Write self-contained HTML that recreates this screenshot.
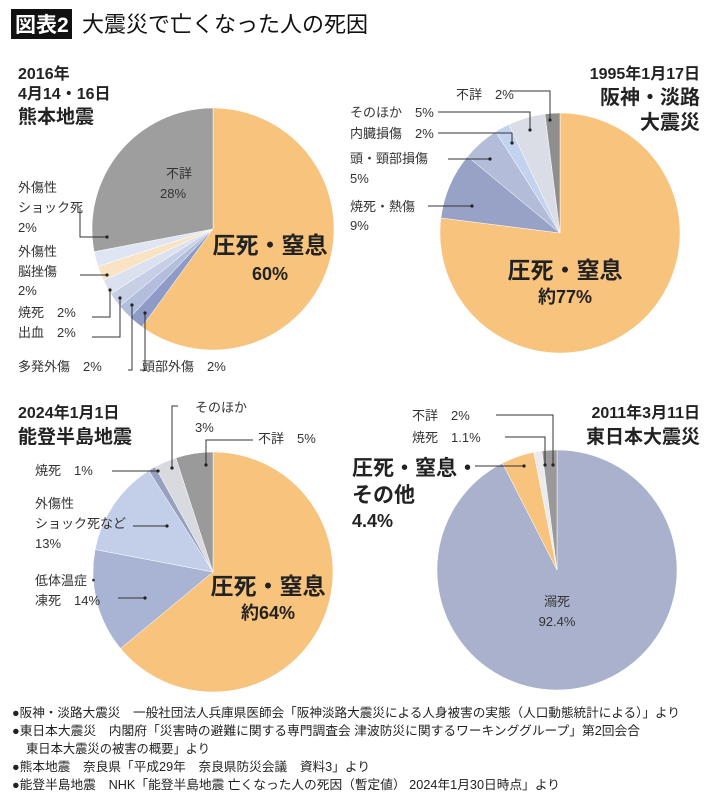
<!DOCTYPE html>
<html><head><meta charset="utf-8">
<style>
body{margin:0;background:#fff;}
svg{display:block;font-family:"Liberation Sans","Noto Sans CJK JP",sans-serif;}
.l{font-size:13px;fill:#333;}
.b{font-weight:bold;fill:#222;}
</style></head>
<body>
<svg id="chart" width="710" height="800" viewBox="0 0 710 800">
<rect x="11" y="9" width="61" height="30" fill="#111"/>
<text x="15" y="32" font-size="21" font-weight="bold" fill="#fff">図表2</text>
<text x="82" y="32" font-size="22" fill="#111">大震災で亡くなった人の死因</text>
<g id="pies"></g>
<g fill="none" stroke="#333" stroke-width="1">
<polyline points="80,208 80,237 107,237"/><polyline points="80,275 107,275"/>
<polyline points="92,317 110,317 110,290"/><polyline points="92,337 120,337 120,298"/>
<polyline points="128,370 132,370 132,305"/><polyline points="140,370 145,370 145,313"/>
<polyline points="510,91 550,91 550,120"/><polyline points="438,112 530,112 530,130"/>
<polyline points="438,133 512,133 512,143"/><polyline points="448,159 490,159"/><polyline points="428,206 472,206"/>
<polyline points="178,406 172,406 172,468"/><polyline points="253,440 206,440 206,465"/>
<polyline points="112,471 158,471"/><polyline points="133,526 167,526"/><polyline points="118,598 145,598"/>
<polyline points="496,415 553,415 553,465"/><polyline points="505,437 545,437 545,465"/><polyline points="475,466 524,466"/>
</g>
<g fill="#222">
<circle cx="107" cy="237" r="1.6"/><circle cx="107" cy="275" r="1.6"/><circle cx="110" cy="290" r="1.6"/><circle cx="120" cy="298" r="1.6"/><circle cx="132" cy="305" r="1.6"/><circle cx="145" cy="313" r="1.6"/>
<circle cx="550" cy="120" r="1.6"/><circle cx="530" cy="130" r="1.6"/><circle cx="512" cy="143" r="1.6"/><circle cx="490" cy="159" r="1.6"/><circle cx="472" cy="206" r="1.6"/>
<circle cx="172" cy="468" r="1.6"/><circle cx="206" cy="465" r="1.6"/><circle cx="158" cy="471" r="1.6"/><circle cx="167" cy="526" r="1.6"/><circle cx="145" cy="598" r="1.6"/>
<circle cx="553" cy="465" r="1.6"/><circle cx="545" cy="465" r="1.6"/><circle cx="524" cy="466" r="1.6"/>
</g>
<g>
<text x="18" y="79" font-size="16" class="b">2016年</text>
<text x="18" y="99" font-size="16" class="b">4月14・16日</text>
<text x="18" y="123" font-size="19" class="b">熊本地震</text>
<text x="166" y="178" class="l" font-size="14">不詳</text><text x="160" y="198" class="l" font-size="14">28%</text>
<text x="270" y="253" text-anchor="middle" font-size="23" class="b">圧死・窒息</text>
<text x="270" y="280" text-anchor="middle" font-size="18" class="b">60%</text>
<text x="18" y="192" class="l">外傷性</text><text x="18" y="212" class="l">ショック死</text><text x="18" y="232" class="l">2%</text>
<text x="18" y="256" class="l">外傷性</text><text x="18" y="276" class="l">脳挫傷</text><text x="18" y="295" class="l">2%</text>
<text x="18" y="317" class="l">焼死　2%</text><text x="18" y="337" class="l">出血　2%</text>
<text x="18" y="371" class="l">多発外傷　2%</text><text x="142" y="371" class="l">頭部外傷　2%</text>
</g>
<g>
<text x="700" y="79" text-anchor="end" font-size="16" class="b">1995年1月17日</text>
<text x="700" y="104" text-anchor="end" font-size="20" class="b">阪神・淡路</text>
<text x="700" y="129" text-anchor="end" font-size="20" class="b">大震災</text>
<text x="456" y="99" class="l">不詳　2%</text>
<text x="350" y="117" class="l">そのほか　5%</text>
<text x="350" y="138" class="l">内臓損傷　2%</text>
<text x="350" y="163" class="l">頭・頸部損傷</text><text x="350" y="183" class="l">5%</text>
<text x="350" y="211" class="l">焼死・熱傷</text><text x="350" y="230" class="l">9%</text>
<text x="565" y="278" text-anchor="middle" font-size="23" class="b">圧死・窒息</text>
<text x="565" y="303" text-anchor="middle" font-size="18" class="b">約77%</text>
</g>
<g>
<text x="18" y="418" font-size="16" class="b">2024年1月1日</text>
<text x="18" y="443" font-size="19" class="b">能登半島地震</text>
<text x="195" y="412" class="l">そのほか</text><text x="195" y="432" class="l">3%</text>
<text x="258" y="443" class="l">不詳　5%</text>
<text x="35" y="475" class="l">焼死　1%</text>
<text x="35" y="508" class="l">外傷性</text><text x="35" y="528" class="l">ショック死など</text><text x="35" y="548" class="l">13%</text>
<text x="35" y="585" class="l">低体温症・</text><text x="35" y="605" class="l">凍死　14%</text>
<text x="268" y="594" text-anchor="middle" font-size="23" class="b">圧死・窒息</text>
<text x="268" y="619" text-anchor="middle" font-size="18" class="b">約64%</text>
</g>
<g>
<text x="700" y="418" text-anchor="end" font-size="16" class="b">2011年3月11日</text>
<text x="700" y="443" text-anchor="end" font-size="19" class="b">東日本大震災</text>
<text x="412" y="420" class="l">不詳　2%</text>
<text x="412" y="442" class="l">焼死　1.1%</text>
<text x="352" y="475" font-size="21" class="b">圧死・窒息・</text>
<text x="352" y="502" font-size="21" class="b">その他</text>
<text x="352" y="527" font-size="18" class="b">4.4%</text>
<text x="557" y="606" text-anchor="middle" class="l" font-size="14">溺死</text>
<text x="557" y="626" text-anchor="middle" class="l" font-size="14">92.4%</text>
</g>
<g font-size="12.5" fill="#222">
<text x="12" y="717" textLength="668" lengthAdjust="spacingAndGlyphs">●阪神・淡路大震災　一般社団法人兵庫県医師会「阪神淡路大震災による人身被害の実態（人口動態統計による）」より</text>
<text x="12" y="735" textLength="628" lengthAdjust="spacingAndGlyphs">●東日本大震災　内閣府「災害時の避難に関する専門調査会 津波防災に関するワーキンググループ」第2回会合</text>
<text x="26" y="753" textLength="184" lengthAdjust="spacingAndGlyphs">東日本大震災の被害の概要」より</text>
<text x="12" y="771" textLength="358" lengthAdjust="spacingAndGlyphs">●熊本地震　奈良県「平成29年　奈良県防災会議　資料3」より</text>
<text x="12" y="789" textLength="548" lengthAdjust="spacingAndGlyphs">●能登半島地震　NHK「能登半島地震 亡くなった人の死因（暫定値） 2024年1月30日時点」より</text>
</g>
</svg>
<script>
// Kumamoto (clockwise from top)
const kumaCats = ['圧死・窒息','頭部外傷','多発外傷','出血','焼死','外傷性脳挫傷','外傷性ショック死','不詳'];
const kumaVals = [60,2,2,2,2,2,2,28];
const kumaColors = ['#f7c37d','#8e9bc6','#b3bedd','#c7cfe7','#dce1ef','#f8e4c4','#dfe5f2','#9e9e9e'];
// Hanshin-Awaji
const hanCats = ['圧死・窒息','焼死・熱傷','頭・頸部損傷','内臓損傷','そのほか','不詳'];
const hanVals = [77,9,5,2,5,2];
const hanColors = ['#f7c37d','#98a2c6','#b3bcd9','#c3d2ee','#dadde6','#8e8e8e'];
// Noto
const notoCats = ['圧死・窒息','低体温症・凍死','外傷性ショック死など','焼死','そのほか','不詳'];
const notoVals = [64,14,13,1,3,5];
const notoColors = ['#f7c37d','#a9b3d3','#c3cee9','#98a0c0','#d9dadf','#9a9a9a'];
// Great East Japan
const eastCats = ['溺死','圧死・窒息・その他','焼死','不詳'];
const eastVals = [92.4,4.4,1.1,2];
const eastColors = ['#a9b1cc','#f7c37d','#eceaea','#999999'];

const NS='http://www.w3.org/2000/svg';
const g=document.getElementById('pies');
function angleOf(cum,total){return (-90+cum/total*360)*Math.PI/180;}
function drawPie(name,cx,cy,r,cats,vals,colors){
  const total=vals.reduce((a,b)=>a+b,0);
  let cum=0;
  const grp=document.createElementNS(NS,'g');
  
  
  vals.forEach((v,i)=>{
    const a0=angleOf(cum,total),a1=angleOf(cum+v,total);cum+=v;
    const x0=cx+r*Math.cos(a0),y0=cy+r*Math.sin(a0),x1=cx+r*Math.cos(a1),y1=cy+r*Math.sin(a1);
    const large=(a1-a0)>Math.PI?1:0;
    const p=document.createElementNS(NS,'path');
    p.setAttribute('d',`M${cx},${cy}L${x0},${y0}A${r},${r} 0 ${large} 1 ${x1},${y1}Z`);
    p.setAttribute('fill',colors[i]);
    p.setAttribute('stroke','#fff');p.setAttribute('stroke-width','0.5');
    
    
    grp.appendChild(p);
  });
  g.appendChild(grp);
}
drawPie('kumamoto',213,229,121,kumaCats,kumaVals,kumaColors);
drawPie('hanshin',560,233,120,hanCats,hanVals,hanColors);
drawPie('noto',213,572,120,notoCats,notoVals,notoColors);
drawPie('east',557,570,120,eastCats,eastVals,eastColors);
</script>
</body></html>
